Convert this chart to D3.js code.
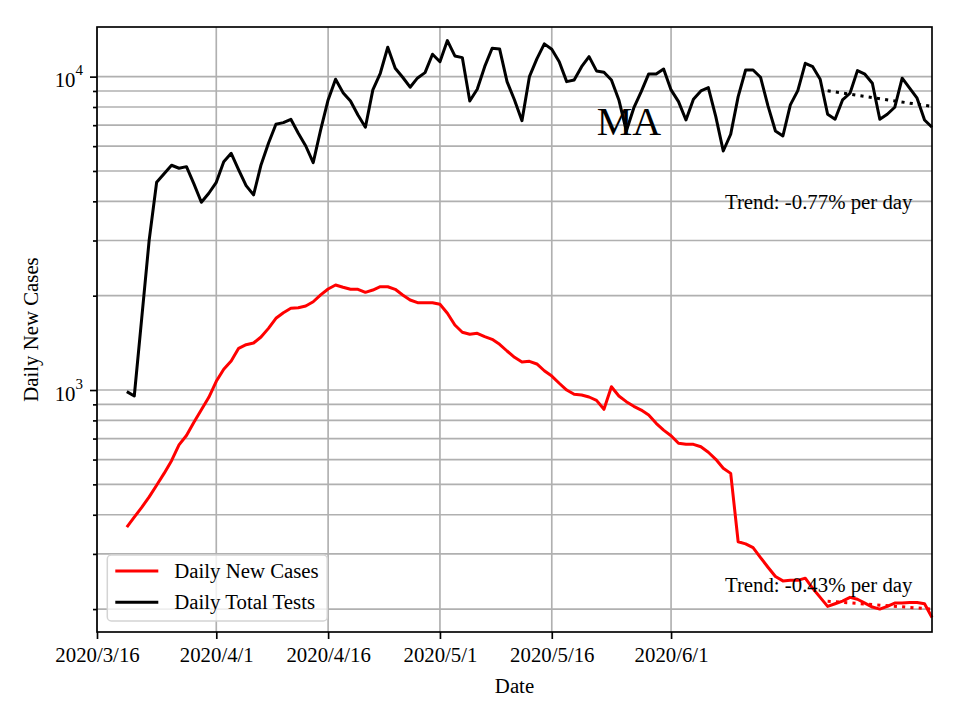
<!DOCTYPE html>
<html>
<head>
<meta charset="utf-8">
<script src="https://cdn.jsdelivr.net/npm/d3@7"></script>
<style>
	body { margin: 0; background: #fff; }
	svg, svg text { font-family: "Liberation Serif", "Times New Roman", serif; }
	.grid line { stroke: #b0b0b0; stroke-width: 1.67; }
	.axis path { display: none; }
	.axis line { stroke: #000; stroke-width: 1.67; }
</style>
</head>
<body>
<svg id="chart" width="960" height="720"></svg>
<script>
/*********************************************************\
* Data                             *
\*********************************************************/

var firstDay = '2020-03-20',
	lastDay = '2020-07-06';

var dailyCases = [
	365, 393, 422, 456, 497, 542, 595, 668, 716, 789,
	865, 948, 1066, 1165, 1238, 1359, 1395, 1413, 1476, 1573,
	1694, 1765, 1823, 1831, 1854, 1913, 2011, 2101, 2163, 2127,
	2096, 2096, 2050, 2085, 2136, 2136, 2096, 2011, 1938, 1900,
	1900, 1900, 1877, 1757, 1612, 1529, 1506, 1517, 1480, 1451,
	1399, 1332, 1272, 1229, 1235, 1211, 1152, 1108, 1051, 1000,
	969, 964, 950, 927, 868, 1024, 957, 918, 887, 863,
	832, 783, 745, 715, 676, 671, 671, 659, 633, 601,
	563, 542, 328, 323, 314, 292, 272, 254, 246, 247,
	247, 251, 233, 218, 204, 208, 212, 218, 215, 209,
	203, 200, 204, 209, 209, 210, 210, 208, 188
];

var dailyTests = [
	988, 957, 1697, 3011, 4601, 4901, 5214, 5101, 5161, 4545,
	3973, 4244, 4601, 5354, 5693, 5038, 4489, 4193, 5226, 6131,
	7048, 7132, 7311, 6596, 6007, 5315, 6759, 8425, 9810, 8890,
	8363, 7544, 6895, 9070, 10250, 12410, 10640, 9956, 9252, 9906,
	10300, 11790, 11160, 13030, 11640, 11500, 8363, 9115, 10760, 12320,
	12260, 9638, 8425, 7237, 10000, 11390, 12720, 12230, 11160, 9638,
	9759, 10760, 11580, 10430, 10330, 9759, 8425, 6708, 7943, 8958,
	10200, 10200, 10580, 9070, 8324, 7274, 8470, 9006, 9225, 7452,
	5790, 6548, 8634, 10500, 10500, 9956, 8063, 6708, 6466, 8123,
	9026, 11030, 10760, 9810, 7585, 7311, 8425, 8851, 10450, 10180,
	9526, 7311, 7585, 7985, 9884, 9184, 8533, 7274, 6895
];

var trendDays = ['2020-06-22', '2020-07-06'],
	trendCases = [212, 200],
	trendTests = [9010, 8030];

var tickLabels = ['2020/3/16', '2020/4/1', '2020/4/16', '2020/5/1', '2020/5/16', '2020/6/1'];

var seriesNames = ['Daily New Cases', 'Daily Total Tests'],
	trendTexts = ['Trend: -0.43% per day', 'Trend: -0.77% per day'],
	stateName = 'MA';

//------------------------------------------------------------------------------

var parseIso = d3.utcParse('%Y-%m-%d'),
	parseLabel = d3.utcParse('%Y/%m/%d');

var days = d3.utcDays(parseIso(firstDay), d3.utcDay.offset(parseIso(lastDay), 1)),
	tickDates = tickLabels.map(parseLabel);

function series(values)
{
	return values.map(function (v, i) { return {date: days[i], value: v}; });
}

function trend(values)
{
	return values.map(function (v, i) { return {date: parseIso(trendDays[i]), value: v}; });
}

//- - - - - - - - - - - - - - - - - - - - - - - - - - - - - - - - - - - - - - - 

var box = {left: 97, right: 932, top: 27, bottom: 632},
	fontSize = 20.8;

var svg = d3.select('#chart');

var x = d3.scaleUtc()
	.domain([parseLabel(tickLabels[0]), parseIso(lastDay)])
	.range([box.left, box.right]);

var y = d3.scaleLog()
	.domain([169, 14400])
	.range([box.bottom, box.top]);

// grid
var grid = svg.append('g').attr('class', 'grid');

grid.selectAll('line.h')
	.data(y.ticks())
	.enter()
	.append('line')
	.attr('class', 'h')
	.attr('x1', box.left).attr('x2', box.right)
	.attr('y1', function (d) { return y(d); })
	.attr('y2', function (d) { return y(d); })
;

grid.selectAll('line.v')
	.data(tickDates)
	.enter()
	.append('line')
	.attr('class', 'v')
	.attr('y1', box.top).attr('y2', box.bottom)
	.attr('x1', function (d) { return x(d); })
	.attr('x2', function (d) { return x(d); })
;

// data lines
var line = d3.line()
	.x(function (d) { return x(d.date); })
	.y(function (d) { return y(d.value); });

var lines = svg.append('g').attr('class', 'lines')
	.attr('fill', 'none')
	.attr('stroke-width', 3)
	.attr('stroke-linejoin', 'round');

lines.append('path')
	.datum(series(dailyCases))
	.attr('stroke', '#ff0000')
	.attr('d', line)
;

lines.append('path')
	.datum(series(dailyTests))
	.attr('stroke', '#000000')
	.attr('d', line)
;

lines.selectAll('path.trend')
	.data([{c: '#ff0000', v: trendCases}, {c: '#000000', v: trendTests}])
	.enter()
	.append('path')
	.attr('class', 'trend')
	.attr('stroke', function (d) { return d.c; })
	.attr('stroke-dasharray', '3.1,5.2')
	.attr('d', function (d) { return line(trend(d.v)); })
;

// axes
var xAxis = svg.append('g')
	.attr('class', 'axis')
	.attr('transform', 'translate(0,' + box.bottom + ')')
	.call(d3.axisBottom(x)
		.tickValues(tickDates)
		.tickFormat(function (d, i) { return tickLabels[i]; })
		.tickSize(7)
		.tickPadding(8.5))
	.attr('font-family', null)
	.attr('font-size', null);

xAxis.selectAll('text')
	.attr('font-size', fontSize)
	.attr('fill', '#000')
;

var majors = y.ticks().filter(function (d) { return Math.abs(Math.log10(d) % 1) < 1e-9; }),
	minors = y.ticks().filter(function (d) { return majors.indexOf(d) < 0; });

svg.append('g')
	.attr('class', 'axis')
	.attr('transform', 'translate(' + box.left + ',0)')
	.call(d3.axisLeft(y).tickValues(majors).tickFormat('').tickSize(7))
;

svg.append('g')
	.attr('class', 'axis')
	.attr('transform', 'translate(' + box.left + ',0)')
	.call(d3.axisLeft(y).tickValues(minors).tickFormat('').tickSize(4))
;

var ylabels = svg.append('g')
	.selectAll('text')
	.data(majors)
	.enter()
	.append('text')
	.attr('x', box.left - 14)
	.attr('y', function (d) { return y(d) + 10.5; })
	.attr('text-anchor', 'end')
	.attr('font-size', fontSize)
;
ylabels.append('tspan').text('10');
ylabels.append('tspan')
	.attr('font-size', 15)
	.attr('dy', -12)
	.text(function (d) { return Math.round(Math.log10(d)); })
;

// spines
svg.append('rect')
	.attr('x', box.left).attr('y', box.top)
	.attr('width', box.right - box.left)
	.attr('height', box.bottom - box.top)
	.attr('fill', 'none')
	.attr('stroke', '#000')
	.attr('stroke-width', 1.67)
;

// axis titles
svg.append('text')
	.attr('x', (box.left + box.right) / 2)
	.attr('y', 692.5)
	.attr('text-anchor', 'middle')
	.attr('font-size', fontSize)
	.text('Date')
;

svg.append('text')
	.attr('transform', 'translate(38,' + (box.top + box.bottom) / 2 + ') rotate(-90)')
	.attr('text-anchor', 'middle')
	.attr('font-size', fontSize)
	.text(seriesNames[0])
;

// annotations
var pw = box.right - box.left, ph = box.bottom - box.top;

svg.append('text')
	.attr('x', box.left + 0.637 * pw)
	.attr('y', box.top + 0.1785 * ph)
	.attr('text-anchor', 'middle')
	.attr('font-size', 40)
	.text(stateName)
;

svg.selectAll('text.trend')
	.data([592.3, 209.3])
	.enter()
	.append('text')
	.attr('class', 'trend')
	.attr('x', box.left + 0.752 * pw)
	.attr('y', function (d) { return d; })
	.attr('font-size', fontSize)
	.text(function (d, i) { return trendTexts[i]; })
;

// legend
var legend = svg.append('g').attr('transform', 'translate(107.3,555)');

legend.append('rect')
	.attr('width', 220).attr('height', 66)
	.attr('rx', 4)
	.attr('fill', '#fff').attr('fill-opacity', 0.8)
	.attr('stroke', '#d4d4d4').attr('stroke-width', 1.5)
;

var items = legend.selectAll('g.item')
	.data([{name: seriesNames[0], c: '#ff0000'}, {name: seriesNames[1], c: '#000000'}])
	.enter()
	.append('g')
	.attr('class', 'item')
	.attr('transform', function (d, i) { return 'translate(0,' + (16 + i * 31.3) + ')'; })
;

items.append('line')
	.attr('x1', 8).attr('x2', 51)
	.attr('stroke', function (d) { return d.c; })
	.attr('stroke-width', 3)
;

items.append('text')
	.attr('x', 67)
	.attr('y', 6.7)
	.attr('font-size', fontSize)
	.text(function (d) { return d.name; })
;

//------------------------------------------------------------------------------
</script>
</body>
</html>
